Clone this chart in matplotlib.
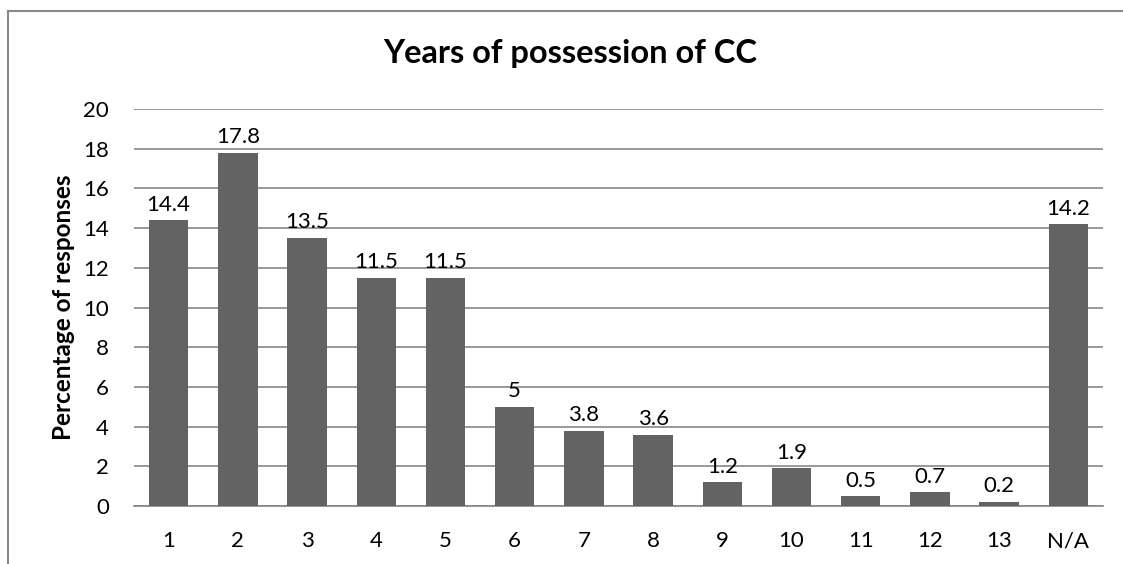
import matplotlib
matplotlib.use("Agg")
import matplotlib.pyplot as plt
from matplotlib.lines import Line2D

categories = ["1", "2", "3", "4", "5", "6", "7", "8", "9", "10", "11", "12", "13", "N/A"]
values = [14.4, 17.8, 13.5, 11.5, 11.5, 5, 3.8, 3.6, 1.2, 1.9, 0.5, 0.7, 0.2, 14.2]
labels = ["14.4", "17.8", "13.5", "11.5", "11.5", "5", "3.8", "3.6", "1.2", "1.9", "0.5", "0.7", "0.2", "14.2"]
yticks = [0, 2, 4, 6, 8, 10, 12, 14, 16, 18, 20]

plt.rcParams['font.family'] = ['Lato', 'DejaVu Sans']

fig = plt.figure(figsize=(11.23, 5.64), dpi=100)
ax = fig.add_axes([134/1123, 1-506/564, (1103-134)/1123, (506-109)/564])

x = list(range(len(categories)))
ax.bar(x, values, width=0.57, color="#636363", zorder=3)
for xi, v, lab in zip(x, values, labels):
    ax.annotate(lab, (xi, v), xytext=(0, 4), textcoords="offset points",
                ha="center", va="bottom", fontsize=16, color="black", zorder=4)

ax.set_xlim(-0.5, len(categories) - 0.5)
ax.set_ylim(0, 20)
ax.set_yticks(yticks)
ax.set_xticks(x)
ax.set_xticklabels(categories)
ax.tick_params(axis="both", length=0, labelsize=16, colors="black")
ax.tick_params(axis="y", pad=18)
ax.tick_params(axis="x", pad=18)
ax.grid(axis="y", color="#868686", linewidth=1.2, zorder=0)
for s in ["top", "right", "left"]:
    ax.spines[s].set_visible(False)
ax.spines["bottom"].set_color("#868686")
ax.spines["bottom"].set_linewidth(1.2)

ax.set_ylabel("Percentage of responses", fontsize=17.5, fontweight="bold", labelpad=6)
fig.text(570/1123, 1-63/564, "Years of possession of CC", ha="center", va="baseline",
         fontsize=23.5, fontweight="bold")

# outer chart border (left and top visible)
fig.add_artist(Line2D([7.5/1123, 7.5/1123], [0, 1-10.5/564], transform=fig.transFigure, color="#888888", lw=1.5))
fig.add_artist(Line2D([7.5/1123, 1], [1-10.5/564, 1-10.5/564], transform=fig.transFigure, color="#888888", lw=1.5))

fig.savefig("out.png", dpi=100)
